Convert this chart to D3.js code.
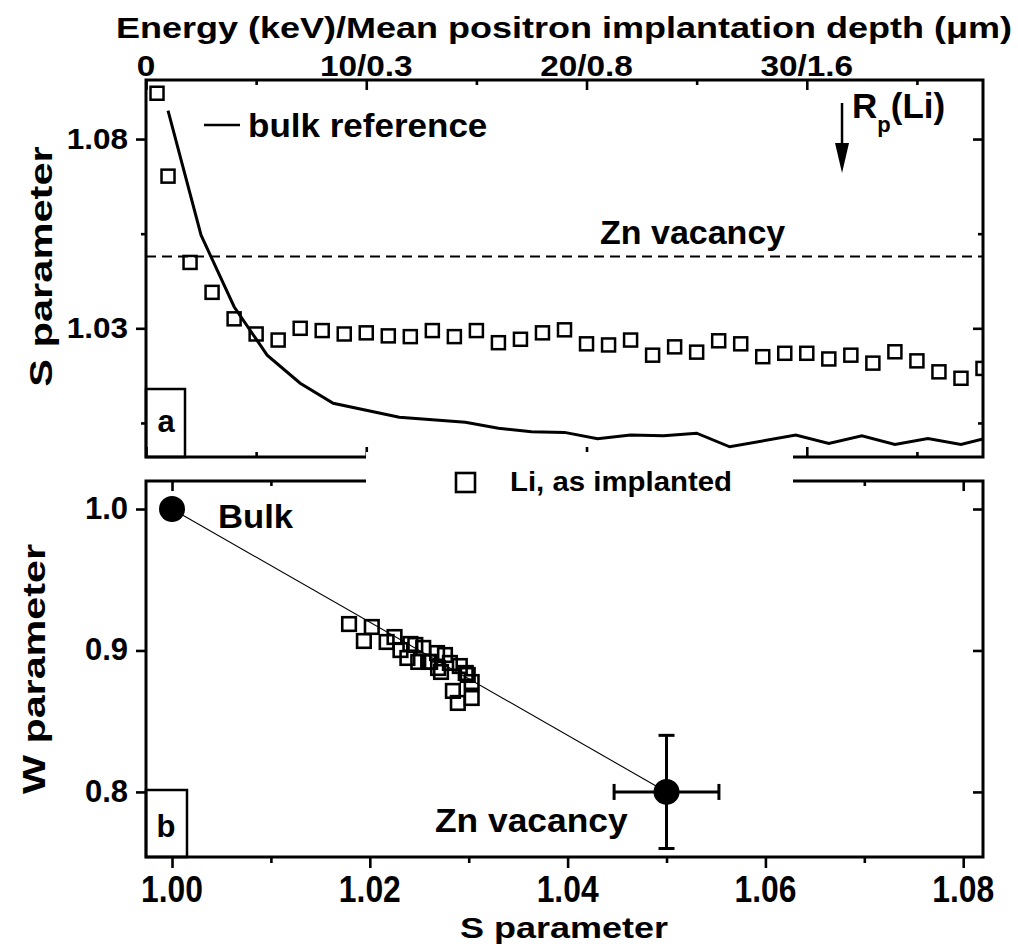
<!DOCTYPE html>
<html>
<head>
<meta charset="utf-8">
<script src="https://cdn.jsdelivr.net/npm/d3@7"></script>
<style>
  body { margin: 0; background: #fff; }
  svg text { font-family: "Liberation Sans", Arial, sans-serif; font-weight: bold; fill: #000; }
</style>
</head>
<body>
<svg id="chart" width="1018" height="944"></svg>
<script>
// ---- panel a: S parameter vs positron energy ----
const energies = [0.5, 1, 2, 3, 4, 5, 6, 7, 8, 9, 10, 11, 12, 13, 14, 15, 16, 17, 18, 19,
  20, 21, 22, 23, 24, 25, 26, 27, 28, 29, 30, 31, 32, 33, 34, 35, 36, 37, 38];
const sLi = [1.0921, 1.0702, 1.0474, 1.0395, 1.0325, 1.0285, 1.0269, 1.0300, 1.0294, 1.0285,
  1.0288, 1.0280, 1.0278, 1.0294, 1.0278, 1.0294, 1.0262, 1.0271, 1.0288, 1.0296,
  1.0259, 1.0256, 1.0269, 1.0229, 1.0251, 1.0237, 1.0267, 1.0259, 1.0225, 1.0234,
  1.0234, 1.0219, 1.0229, 1.0208, 1.0238, 1.0214, 1.0185, 1.0168, 1.0194];
const bulkEnergies = [1, 2.5, 4, 5.5, 7, 8.5, 11.5, 14.5, 16, 17.5, 19, 20.5, 22, 23.5, 25,
  26.5, 29.5, 31, 32.5, 34, 35.5, 37, 38];
const bulkS = [1.0875, 1.0546, 1.0357, 1.0229, 1.0155, 1.0102, 1.0065, 1.0052, 1.0036, 1.0027,
  1.0025, 1.0008, 1.0018, 1.0016, 1.0023, 0.9987, 1.0018, 0.9996, 1.0016, 0.9993,
  1.0009, 0.9993, 1.0008];
const znVacancyS = 1.049;
const rpEnergy = 31.6;
const energyTicks = [0, 10, 20, 30];
const energyMinor = [5, 15, 25, 35];
const energyTickLabels = ["0", "10/0.3", "20/0.8", "30/1.6"];
const sTicksA = [1.03, 1.08];
const sMinorA = [1.005, 1.055];

// ---- panel b: W parameter vs S parameter ----
const swS = [1.0179, 1.0194, 1.0202, 1.0217, 1.0225, 1.0231, 1.0241, 1.0238, 1.0249, 1.0254,
  1.0261, 1.0268, 1.0276, 1.0269, 1.0281, 1.0259, 1.0297, 1.0303, 1.0284, 1.0303,
  1.0289, 1.0299, 1.0246, 1.0272, 1.0291];
const swW = [0.9187, 0.9067, 0.9166, 0.9060, 0.9095, 0.9003, 0.9046, 0.8947, 0.8919, 0.9018,
  0.8919, 0.8982, 0.8968, 0.8876, 0.8912, 0.8919, 0.8841, 0.8777, 0.8714, 0.8664,
  0.8629, 0.8827, 0.9039, 0.8848, 0.8890];
const refNames = ["Bulk", "Zn vacancy"];
const refS = [1.00, 1.05];
const refW = [1.00, 0.80];
const refSErr = [0, 0.0053];
const refWErr = [0, 0.04];
const sTicksB = [1.00, 1.02, 1.04, 1.06, 1.08];
const sMinorB = [1.01, 1.03, 1.05, 1.07];
const wTicks = [0.8, 0.9, 1.0];

const svg = d3.select("#chart");
const L = 146, R = 983;
const T1 = 80, B1 = 457, T2 = 481, B2 = 857;

const xE = d3.scaleLinear().domain([0, 38]).range([L, R]);
const yA = d3.scaleLinear().domain([0.996, 1.0956]).range([B1, T1]);
const xS = d3.scaleLinear().domain([0.99737, 1.0820]).range([L, R]);
const yW = d3.scaleLinear().domain([0.754, 1.0198]).range([B2, T2]);

function label(g, x, y, str, size, sx, anchor, rot) {
  return g.append("text")
    .attr("transform", `translate(${x},${y})${rot ? ` rotate(${rot})` : ""} scale(${sx},1)`)
    .attr("font-size", size)
    .attr("text-anchor", anchor || "start")
    .text(str);
}

function ticks(axis, y, x, vals, size) {
  const g = svg.append("g")
    .attr("transform", `translate(${x},${y})`)
    .call(axis.tickValues(vals).tickSize(size).tickFormat(""));
  g.select(".domain").remove();
  g.selectAll("line").attr("stroke", "#000").attr("stroke-width", 2.6);
}

svg.append("defs").append("clipPath").attr("id", "clipA")
  .append("rect").attr("x", L).attr("y", T1).attr("width", R - L).attr("height", B1 - T1);

// ---------- panel a ----------
ticks(d3.axisBottom(xE), T1, 0, energyTicks, 10);
ticks(d3.axisBottom(xE), T1, 0, energyMinor, 5);
ticks(d3.axisTop(xE), B1, 0, energyTicks, 10);
ticks(d3.axisTop(xE), B1, 0, energyMinor, 5);
ticks(d3.axisLeft(yA), 0, L, sTicksA, 10);
ticks(d3.axisLeft(yA), 0, L, sMinorA, 5);
ticks(d3.axisLeft(yA), 0, R, sTicksA, 10);
ticks(d3.axisLeft(yA), 0, R, sMinorA, 5);

const gA = svg.append("g").attr("clip-path", "url(#clipA)");
gA.append("line")
  .attr("x1", L).attr("x2", R)
  .attr("y1", yA(znVacancyS)).attr("y2", yA(znVacancyS))
  .attr("stroke", "#000").attr("stroke-width", 2).attr("stroke-dasharray", "10,6");

gA.append("path")
  .datum(bulkEnergies.map((e, i) => [e, bulkS[i]]))
  .attr("fill", "none").attr("stroke", "#000").attr("stroke-width", 3)
  .attr("d", d3.line().x(d => xE(d[0])).y(d => yA(d[1])));

gA.selectAll("rect.sq")
  .data(energies.map((e, i) => [e, sLi[i]]))
  .enter().append("rect")
  .attr("class", "sq")
  .attr("x", d => xE(d[0]) - 6.5).attr("y", d => yA(d[1]) - 6.5)
  .attr("width", 13).attr("height", 13)
  .attr("fill", "none").attr("stroke", "#000").attr("stroke-width", 2.5);

svg.append("rect").attr("x", L).attr("y", T1).attr("width", R - L).attr("height", B1 - T1)
  .attr("fill", "none").attr("stroke", "#000").attr("stroke-width", 3);

// top axis labels
energyTicks.forEach((e, i) => label(svg, xE(e), 76, energyTickLabels[i], 29, 1.15, "middle"));
sTicksA.forEach(s => label(svg, 128, yA(s) + 10, d3.format(".2f")(s), 30, 1.05, "end"));
label(svg, 564, 38, "Energy (keV)/Mean positron implantation depth (\u03bcm)", 30, 1.2, "middle");
label(svg, 52, (T1 + B1) / 2 - 2, "S parameter", 32, 1.3, "middle", -90);

// legend: bulk reference
svg.append("line").attr("x1", 204).attr("x2", 240).attr("y1", 125).attr("y2", 125)
  .attr("stroke", "#000").attr("stroke-width", 2.5);
label(svg, 248, 137, "bulk reference", 34, 1.03, "start");
label(svg, 600, 244, "Zn vacancy", 34, 1.0, "start");

// R_p(Li) arrow
const xRp = xE(rpEnergy);
svg.append("line").attr("x1", xRp).attr("x2", xRp).attr("y1", 103).attr("y2", 146)
  .attr("stroke", "#000").attr("stroke-width", 2.5);
svg.append("path")
  .attr("d", `M${xRp - 7},143 L${xRp + 7},143 L${xRp},173 Z`).attr("fill", "#000");
const rp = svg.append("text").attr("x", xRp + 10).attr("y", 118).attr("font-size", 35);
rp.append("tspan").text("R");
rp.append("tspan").attr("font-size", 22).attr("dy", 14).text("p");
rp.append("tspan").attr("dy", -14).text("(Li)");

// panel letter a
svg.append("rect").attr("x", L).attr("y", 389).attr("width", 39).attr("height", B1 - 389)
  .attr("fill", "none").attr("stroke", "#000").attr("stroke-width", 2.5);
label(svg, 166, 432, "a", 31, 1, "middle");

// ---------- panel b ----------
ticks(d3.axisBottom(xS), B2, 0, sTicksB, 11);
ticks(d3.axisBottom(xS), B2, 0, sMinorB, 6);
ticks(d3.axisBottom(xS), T2, 0, sTicksB, 10);
ticks(d3.axisBottom(xS), T2, 0, sMinorB, 5);
ticks(d3.axisLeft(yW), 0, L, wTicks, 10);
ticks(d3.axisLeft(yW), 0, R, wTicks, 10);

svg.append("line")
  .attr("x1", xS(refS[0])).attr("y1", yW(refW[0]))
  .attr("x2", xS(refS[1])).attr("y2", yW(refW[1]))
  .attr("stroke", "#000").attr("stroke-width", 1.1);

svg.selectAll("rect.sw")
  .data(swS.map((s, i) => [s, swW[i]]))
  .enter().append("rect")
  .attr("class", "sw")
  .attr("x", d => xS(d[0]) - 6.8).attr("y", d => yW(d[1]) - 6.8)
  .attr("width", 13.6).attr("height", 13.6)
  .attr("fill", "none").attr("stroke", "#000").attr("stroke-width", 2.6);

// error bars on Zn vacancy
const ex = xS(refS[1]), ey = yW(refW[1]);
const eb = svg.append("g").attr("stroke", "#000").attr("stroke-width", 3);
eb.append("line").attr("x1", xS(refS[1] - refSErr[1])).attr("x2", xS(refS[1] + refSErr[1]))
  .attr("y1", ey).attr("y2", ey);
eb.append("line").attr("x1", ex).attr("x2", ex)
  .attr("y1", yW(refW[1] - refWErr[1])).attr("y2", yW(refW[1] + refWErr[1]));
[refS[1] - refSErr[1], refS[1] + refSErr[1]].forEach(s =>
  eb.append("line").attr("x1", xS(s)).attr("x2", xS(s)).attr("y1", ey - 8).attr("y2", ey + 8));
[refW[1] - refWErr[1], refW[1] + refWErr[1]].forEach(w =>
  eb.append("line").attr("x1", ex - 8).attr("x2", ex + 8).attr("y1", yW(w)).attr("y2", yW(w)));

svg.selectAll("circle.ref")
  .data(refS.map((s, i) => [s, refW[i]]))
  .enter().append("circle")
  .attr("class", "ref")
  .attr("cx", d => xS(d[0])).attr("cy", d => yW(d[1])).attr("r", 13).attr("fill", "#000");

svg.append("rect").attr("x", L).attr("y", T2).attr("width", R - L).attr("height", B2 - T2)
  .attr("fill", "none").attr("stroke", "#000").attr("stroke-width", 3);

label(svg, 218, 528, refNames[0], 34, 1.02, "start");
label(svg, 435, 832, refNames[1], 34, 1.04, "start");

sTicksB.forEach(s => label(svg, xS(s), 902, d3.format(".2f")(s), 37, 0.86, "middle"));
wTicks.forEach(w => label(svg, 128, yW(w) + 10, d3.format(".1f")(w), 31, 1, "end"));
label(svg, 564, 938, "S parameter", 30, 1.2, "middle");
label(svg, 45, (T2 + B2) / 2, "W parameter", 32, 1.29, "middle", -90);

// panel letter b
svg.append("rect").attr("x", L).attr("y", 790).attr("width", 41).attr("height", B2 - 790)
  .attr("fill", "none").attr("stroke", "#000").attr("stroke-width", 2.5);
label(svg, 166, 837, "b", 31, 1, "middle");

// legend box between panels
svg.append("rect").attr("x", 366).attr("y", 452).attr("width", 793 - 366).attr("height", 48)
  .attr("fill", "#fff");
svg.append("rect").attr("x", 456).attr("y", 473).attr("width", 19).attr("height", 19)
  .attr("fill", "none").attr("stroke", "#000").attr("stroke-width", 2.6);
label(svg, 510, 491, "Li, as implanted", 28, 1.05, "start");
</script>
</body>
</html>
